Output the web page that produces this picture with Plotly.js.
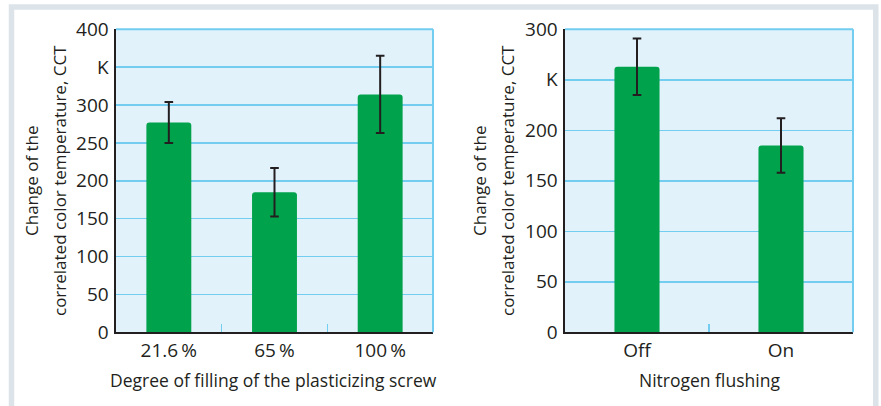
<!DOCTYPE html>
<html>
<head>
<meta charset="utf-8">
<script src="https://cdn.plot.ly/plotly-3.0.1.min.js"></script>
<style>html,body{margin:0;padding:0;background:#fff;}#chart{width:881px;height:406px;}</style>
</head>
<body>
<div id="chart"></div>
<script>
// Left panel: degree of filling of the plasticizing screw
const fillCategories = ["21.6\u2009%", "65\u2009%", "100\u2009%"];
const fillValues = [277, 185, 314];
const fillErrors = [27, 32, 51];
const fillTickVals = [0, 50, 100, 150, 200, 250, 300, 350, 400];
const fillTickText = ["0", "50", "100", "150", "200", "250", "300", "K", "400"];

// Right panel: nitrogen flushing
const n2Categories = ["Off", "On"];
const n2Values = [263, 185];
const n2Errors = [28, 27];
const n2TickVals = [0, 50, 100, 150, 200, 250, 300];
const n2TickText = ["0", "50", "100", "150", "200", "K", "300"];

const yTitleLines = ["Change of the", "correlated color temperature, CCT"];
const xTitleLeft = "Degree of filling of the plasticizing screw";
const xTitleRight = "Nitrogen flushing";

const W = 881, H = 406;
const px = v => v / W;
const py = v => (H - v) / H;

const FONT = "Open Sans, Noto Sans, sans-serif";
const TXT = "#231f20";
const GREEN = "#00a24c";
const GRID = "#72cdf1";
const BG = "#e1f2fa";

const errStyle = {type: "data", color: TXT, thickness: 2, width: 4.3};

const traces = [
  {type: "bar", x: fillCategories, y: fillValues, xaxis: "x", yaxis: "y",
   width: 0.425, marker: {color: GREEN, cornerradius: 3},
   error_y: Object.assign({array: fillErrors}, errStyle), hoverinfo: "x+y"},
  {type: "bar", x: n2Categories, y: n2Values, xaxis: "x2", yaxis: "y2",
   width: 0.313, marker: {color: GREEN, cornerradius: 3},
   error_y: Object.assign({array: n2Errors}, errStyle), hoverinfo: "x+y"}
];

const yDom = [py(332.3), py(29.3)];
function xAx(dom, anchor) {
  return {domain: dom, anchor: anchor, type: "category", range: null,
    showgrid: false, zeroline: false, showline: true, linecolor: TXT, linewidth: 2,
    ticks: "inside", tickson: "boundaries", ticklen: 8, tickwidth: 1.5, tickcolor: GRID,
    tickfont: {family: FONT, size: 19, color: TXT}, ticklabelstandoff: 0, fixedrange: true};
}
function yAx(anchor, vals, text, max) {
  return {anchor: anchor, domain: yDom, range: [0, max], tickmode: "array", tickvals: vals, ticktext: text,
    showgrid: true, gridcolor: GRID, gridwidth: 1.5, zeroline: false,
    showline: true, linecolor: TXT, linewidth: 2.5, ticks: "", ticklabelstandoff: 1,
    tickfont: {family: FONT, size: 19, color: TXT}, fixedrange: true};
}

const xa = xAx([px(116), px(433)], "y"); xa.range = [-0.5, 2.5];
const xa2 = xAx([px(565), px(853)], "y2"); xa2.range = [-0.5, 1.5];

function titleAnn(text, x, y, angle, size) {
  return {xref: "paper", yref: "paper", x: x, y: y, text: text, showarrow: false,
    textangle: angle, xanchor: "center", yanchor: "middle",
    font: {family: FONT, size: size, color: TXT}};
}

const layout = {
  width: W, height: H,
  margin: {l: 0, r: 0, t: 0, b: 0},
  paper_bgcolor: "#ffffff",
  plot_bgcolor: BG,
  showlegend: false,
  xaxis: xa, yaxis: yAx("x", fillTickVals, fillTickText, 400),
  xaxis2: xa2, yaxis2: yAx("x2", n2TickVals, n2TickText, 300),
  annotations: [
    titleAnn(yTitleLines[0], px(32), py(181), -90, 17),
    titleAnn(yTitleLines[1], px(60), py(181), -90, 17),
    titleAnn(yTitleLines[0], px(480), py(181), -90, 17),
    titleAnn(yTitleLines[1], px(508), py(181), -90, 17),
    titleAnn(xTitleLeft, px(273), py(380), 0, 17.5),
    titleAnn(xTitleRight, px(709), py(380), 0, 17.5)
  ],
  shapes: [
    // outer frame
    {type: "rect", xref: "paper", yref: "paper", x0: px(11.5), x1: px(875.8), y0: -0.2, y1: py(7),
     line: {color: "#dce3e9", width: 5.5}, fillcolor: "rgba(0,0,0,0)", layer: "below"},
    // light blue top/right borders
    {type: "line", xref: "x domain", yref: "y domain", x0: 0, x1: 1, y0: 1, y1: 1, line: {color: GRID, width: 2}},
    {type: "line", xref: "x domain", yref: "y domain", x0: 1, x1: 1, y0: 0, y1: 1, line: {color: GRID, width: 2}},
    {type: "line", xref: "x2 domain", yref: "y2 domain", x0: 0, x1: 1, y0: 1, y1: 1, line: {color: GRID, width: 2}},
    {type: "line", xref: "x2 domain", yref: "y2 domain", x0: 1, x1: 1, y0: 0, y1: 1, line: {color: GRID, width: 2}}
  ]
};

Plotly.newPlot("chart", traces, layout, {staticPlot: true, displayModeBar: false});
</script>
</body>
</html>
